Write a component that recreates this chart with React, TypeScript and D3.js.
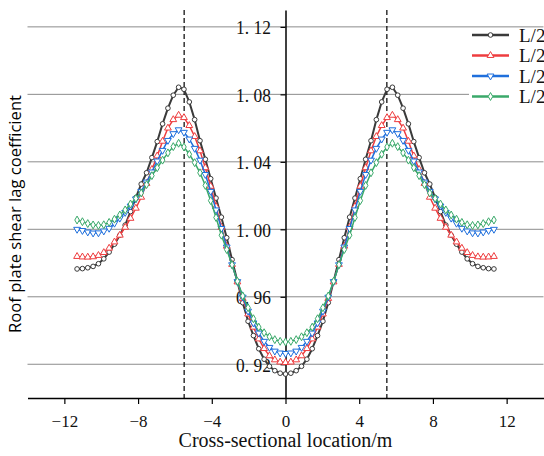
import React, { useEffect, useRef } from 'react';
import * as d3 from 'd3';

const W = 544;
const H = 456;

const xPositions = [-11.31,-11.02,-10.73,-10.44,-10.15,-9.86,-9.57,-9.28,-8.99,-8.70,-8.41,-8.12,-7.83,-7.54,-7.25,-6.96,-6.67,-6.38,-6.09,-5.80,-5.51,-5.22,-4.93,-4.64,-4.35,-4.06,-3.77,-3.48,-3.19,-2.90,-2.61,-2.32,-2.03,-1.74,-1.45,-1.16,-0.87,-0.58,-0.29,0,0.29,0.58,0.87,1.16,1.45,1.74,2.03,2.32,2.61,2.90,3.19,3.48,3.77,4.06,4.35,4.64,4.93,5.22,5.51,5.80,6.09,6.38,6.67,6.96,7.25,7.54,7.83,8.12,8.41,8.70,8.99,9.28,9.57,9.86,10.15,10.44,10.73,11.02,11.31];

const seriesBlack = [0.9765,0.9767,0.9772,0.9780,0.9796,0.9825,0.9865,0.9912,0.9965,1.0025,1.0105,1.0188,1.0268,1.0335,1.0425,1.0520,1.0625,1.0718,1.0795,1.0842,1.0830,1.0755,1.0650,1.0525,1.0415,1.0300,1.0185,1.0072,0.9950,0.9820,0.9690,0.9565,0.9455,0.9370,0.9292,0.9230,0.9188,0.9162,0.9147,0.9142,0.9147,0.9162,0.9188,0.9230,0.9292,0.9370,0.9455,0.9565,0.9690,0.9820,0.9950,1.0072,1.0185,1.0300,1.0415,1.0525,1.0650,1.0755,1.0830,1.0842,1.0795,1.0718,1.0625,1.0520,1.0425,1.0335,1.0268,1.0188,1.0105,1.0025,0.9965,0.9912,0.9865,0.9825,0.9796,0.9780,0.9772,0.9767,0.9765];

const seriesRed = [0.9839,0.9836,0.9835,0.9837,0.9845,0.9862,0.9888,0.9925,0.9965,1.0012,1.0065,1.0125,1.0190,1.0272,1.0355,1.0435,1.0522,1.0600,1.0650,1.0676,1.0662,1.0615,1.0550,1.0465,1.0365,1.0255,1.0135,1.0012,0.9900,0.9792,0.9688,0.9590,0.9498,0.9420,0.9350,0.9293,0.9250,0.9226,0.9213,0.9210,0.9213,0.9226,0.9250,0.9293,0.9350,0.9420,0.9498,0.9590,0.9688,0.9792,0.9900,1.0012,1.0135,1.0255,1.0365,1.0465,1.0550,1.0615,1.0662,1.0676,1.0650,1.0600,1.0522,1.0435,1.0355,1.0272,1.0190,1.0125,1.0065,1.0012,0.9965,0.9925,0.9888,0.9862,0.9845,0.9837,0.9835,0.9836,0.9839];

const seriesBlue = [1.0000,0.9993,0.9984,0.9978,0.9979,0.9990,1.0006,1.0036,1.0066,1.0100,1.0138,1.0180,1.0225,1.0280,1.0340,1.0405,1.0468,1.0527,1.0567,1.0590,1.0575,1.0535,1.0480,1.0410,1.0325,1.0225,1.0115,1.0005,0.9895,0.9790,0.9690,0.9598,0.9515,0.9445,0.9385,0.9336,0.9300,0.9278,0.9267,0.9264,0.9267,0.9278,0.9300,0.9336,0.9385,0.9445,0.9515,0.9598,0.9690,0.9790,0.9895,1.0005,1.0115,1.0225,1.0325,1.0410,1.0480,1.0535,1.0575,1.0590,1.0567,1.0527,1.0468,1.0405,1.0340,1.0280,1.0225,1.0180,1.0138,1.0100,1.0066,1.0036,1.0006,0.9990,0.9979,0.9978,0.9984,0.9993,1.0000];

const seriesGreen = [1.0055,1.0045,1.0034,1.0026,1.0023,1.0027,1.0041,1.0060,1.0085,1.0115,1.0150,1.0183,1.0215,1.0265,1.0318,1.0365,1.0410,1.0453,1.0490,1.0510,1.0488,1.0445,1.0395,1.0335,1.0260,1.0170,1.0070,0.9965,0.9880,0.9790,0.9692,0.9605,0.9535,0.9470,0.9420,0.9387,0.9363,0.9346,0.9336,0.9332,0.9336,0.9346,0.9363,0.9387,0.9420,0.9470,0.9535,0.9605,0.9692,0.9790,0.9880,0.9965,1.0070,1.0170,1.0260,1.0335,1.0395,1.0445,1.0488,1.0510,1.0490,1.0453,1.0410,1.0365,1.0318,1.0265,1.0215,1.0183,1.0150,1.0115,1.0085,1.0060,1.0041,1.0027,1.0023,1.0026,1.0034,1.0045,1.0055];

const seriesNames = ['L/2-1', 'L/2-2', 'L/2-3', 'L/2-4'];
const seriesColors = ['#3a3a3a', '#ee3d3f', '#1f6fdc', '#3aa96a'];
const seriesMarkers = ['circle', 'triangleUp', 'triangleDown', 'diamond'];
const seriesWidths = [2, 1.5, 1.5, 1.5];

const xTicks = [-12, -8, -4, 0, 4, 8, 12];
const yTicks = [0.92, 0.96, 1.0, 1.04, 1.08, 1.12];
const dashedX = [-5.5, 5.5];

const xTitle = 'Cross-sectional location/m';
const yTitle = 'Roof plate shear lag coefficient';

export default function App() {
  const ref = useRef<SVGSVGElement>(null);

  useEffect(() => {
    document.body.style.margin = '0';
    const svg = d3.select(ref.current);
    svg.selectAll('*').remove();

    const x = d3.scaleLinear().domain([-14, 14]).range([27.5, 543.5]);
    const y = d3.scaleLinear().domain([0.9, 1.13]).range([398, 10]);

    svg.append('rect').attr('width', W).attr('height', H).attr('fill', '#fff');

    // gridlines
    svg.append('g').selectAll('line').data(yTicks).join('line')
      .attr('x1', x(-14)).attr('x2', x(14))
      .attr('y1', (d) => y(d)).attr('y2', (d) => y(d))
      .attr('stroke', '#8c8c8c').attr('stroke-width', 1);

    // dashed verticals
    svg.append('g').selectAll('line').data(dashedX).join('line')
      .attr('x1', (d) => x(d)).attr('x2', (d) => x(d))
      .attr('y1', y(1.13)).attr('y2', y(0.9))
      .attr('stroke', '#000').attr('stroke-width', 1.2)
      .attr('stroke-dasharray', '5,3');

    // x axis
    const xAxis = d3.axisBottom(x).tickValues(xTicks).tickSize(6).tickSizeOuter(0)
      .tickFormat((d: any) => (d < 0 ? '\u2212' + Math.abs(d) : String(d)));
    const gx = svg.append('g').attr('transform', `translate(0,${y(0.9)})`).call(xAxis);
    gx.select('.domain').attr('stroke', '#000').attr('stroke-width', 1.4);
    gx.selectAll('.tick line').attr('stroke', '#000').attr('stroke-width', 1.2);
    gx.selectAll('.tick text')
      .attr('y', 28.5).attr('dy', '0')
      .attr('font-family', '"Liberation Serif", serif')
      .attr('font-size', 17).attr('fill', '#111');

    // y axis at x=0
    const yAxis = d3.axisLeft(y).tickValues(yTicks).tickSize(5).tickSizeOuter(0)
      .tickFormat((d: any) => d3.format('.2f')(d));
    const gy = svg.append('g').attr('transform', `translate(${x(0)},0)`).call(yAxis);
    gy.select('.domain').attr('stroke', '#000').attr('stroke-width', 1.5);
    gy.selectAll('.tick line').attr('stroke', '#000').attr('stroke-width', 1.2);
    gy.selectAll('.tick text').each(function (d: any) {
      const t = d3.select(this);
      const s = d3.format('.2f')(d);
      const parts = s.split('.');
      t.text(null);
      t.attr('x', -14.5).attr('dy', '0.36em')
        .attr('font-family', '"Liberation Serif", serif')
        .attr('font-size', 19).attr('fill', '#111')
        .attr('textLength', 35).attr('lengthAdjust', 'spacingAndGlyphs');
      t.append('tspan').text(parts[0] + '.');
      t.append('tspan').attr('dx', 5).text(parts[1]);
    });

    // series
    const all = [seriesBlack, seriesRed, seriesBlue, seriesGreen];
    const line = d3.line<number>().x((_, i) => x(xPositions[i])).y((d) => y(d));
    const markerPath = (kind: string) => {
      if (kind === 'circle') return d3.symbol(d3.symbolCircle, 17)();
      if (kind === 'triangleUp' || kind === 'triangleDown') return d3.symbol(d3.symbolTriangle, 20)();
      return d3.symbol(d3.symbolDiamond, 18)();
    };
    all.forEach((vals, si) => {
      const g = svg.append('g');
      g.append('path').attr('d', line(vals) as string)
        .attr('fill', 'none').attr('stroke', seriesColors[si])
        .attr('stroke-width', seriesWidths[si]).attr('stroke-linejoin', 'round');
      g.selectAll('path.m').data(vals).join('path').attr('class', 'm')
        .attr('d', markerPath(seriesMarkers[si]))
        .attr('transform', (d, i) => `translate(${x(xPositions[i])},${y(d)})${seriesMarkers[si] === 'triangleDown' ? ' rotate(180)' : ''}`)
        .attr('fill', '#fff').attr('stroke', seriesColors[si]).attr('stroke-width', 1);
    });

    // legend
    const lg = svg.append('g');
    lg.append('rect').attr('x', 469).attr('y', 29).attr('width', 80).attr('height', 78).attr('fill', '#fff');
    seriesNames.forEach((name, i) => {
      const ly = 35 + i * 20.5;
      lg.append('line').attr('x1', 472).attr('x2', 509).attr('y1', ly).attr('y2', ly)
        .attr('stroke', seriesColors[i]).attr('stroke-width', 2.5);
      lg.append('path').attr('d', markerPath(seriesMarkers[i]))
        .attr('transform', `translate(490.5,${ly})${seriesMarkers[i] === 'triangleDown' ? ' rotate(180)' : ''}`)
        .attr('fill', '#fff').attr('stroke', seriesColors[i]).attr('stroke-width', 1);
      lg.append('text').attr('x', 519).attr('y', ly + 6.5)
        .attr('font-family', '"Liberation Serif", serif').attr('font-size', 19)
        .attr('fill', '#111').text(name);
    });

    // axis titles
    svg.append('text').attr('x', x(0)).attr('y', 447)
      .attr('text-anchor', 'middle')
      .attr('font-family', '"Liberation Serif", serif').attr('font-size', 20)
      .attr('fill', '#111').text(xTitle);

    svg.append('text')
      .attr('transform', 'translate(21,214) rotate(-90)')
      .attr('text-anchor', 'middle')
      .attr('font-family', '"Open Sans", "Noto Sans", sans-serif').attr('font-size', 17)
      .attr('textLength', 238).attr('lengthAdjust', 'spacingAndGlyphs')
      .attr('fill', '#000').text(yTitle);
  }, []);

  return (
    <svg ref={ref} width={W} height={H}
      style={{ display: 'block', position: 'absolute', left: 0, top: 0 }} />
  );
}
